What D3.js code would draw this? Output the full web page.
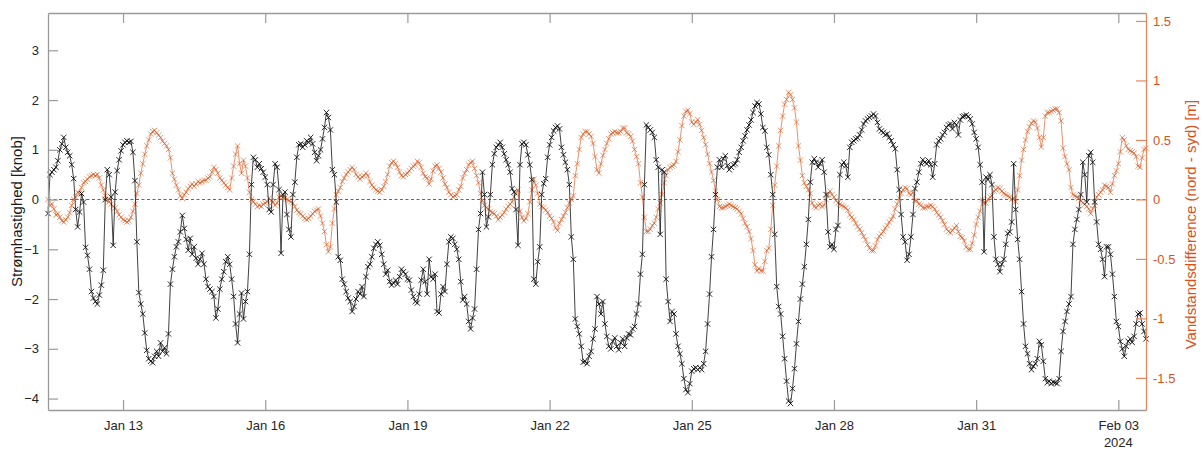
<!DOCTYPE html>
<html><head><meta charset="utf-8">
<script src="https://cdn.jsdelivr.net/npm/d3@7"></script>
<style>
body{margin:0;background:#fff;}
svg{display:block;font-family:"Liberation Sans",Arial,Helvetica,sans-serif;}
</style>
</head><body>
<svg id="chart" width="1202" height="449"></svg>
<script>
// ---------------- DATA ----------------
const startTime = "2024-01-11T10:00:00Z";   // first sample
const stepHours = 1;                         // hourly samples

// Current speed [knob] (left axis, black)
const speedKnots = [
-0.28,0.5,0.55,0.6,0.65,0.78,1.0,1.12,1.25,1.05,
0.95,0.88,0.7,0.42,-0.2,-0.55,-0.25,0.12,-0.05,-0.96,
-1.12,-1.4,-1.85,-1.98,-2.05,-2.1,-1.92,-1.72,-1.42,0.0,
0.6,0.5,0.05,-0.92,0.15,0.58,0.8,0.98,1.1,1.15,
1.18,1.15,1.17,0.95,0.38,-0.85,-1.87,-2.1,-2.3,-2.68,
-3.03,-3.2,-3.25,-3.28,-3.15,-3.05,-3.15,-2.88,-3.05,-2.98,
-3.1,-2.7,-1.7,-1.4,-1.15,-0.95,-0.85,-0.65,-0.32,-0.58,
-0.8,-1.02,-0.78,-1.1,-0.95,-1.18,-1.3,-1.2,-1.08,-1.3,
-1.6,-1.75,-1.8,-1.85,-1.95,-2.38,-2.2,-1.8,-1.6,-1.45,
-1.25,-1.15,-1.3,-1.6,-1.95,-2.5,-2.88,-2.3,-1.88,-2.4,
-2.05,-1.85,-1.1,0.3,0.85,0.8,0.65,0.72,0.62,0.55,
0.45,0.3,-0.2,-0.25,0.3,0.72,0.65,0.2,-1.08,0.1,
0.15,-0.3,-0.6,-0.75,0.1,0.35,0.85,1.1,1.12,1.05,
1.1,1.18,1.15,1.25,1.12,0.95,0.78,0.88,1.0,1.22,
1.45,1.75,1.65,1.4,0.6,0.5,-0.05,-1.15,-1.22,-1.6,
-1.7,-1.85,-1.98,-2.05,-2.25,-2.15,-2.0,-1.85,-1.9,-1.75,
-1.95,-1.55,-1.35,-1.3,-1.15,-0.98,-0.9,-0.85,-0.92,-1.1,
-1.3,-1.5,-1.42,-1.65,-1.72,-1.68,-1.62,-1.7,-1.55,-1.4,
-1.45,-1.5,-1.6,-1.62,-1.82,-1.95,-2.05,-2.08,-1.9,-1.62,
-1.4,-1.65,-1.9,-1.2,-1.55,-1.6,-1.5,-2.25,-2.28,-1.9,
-1.75,-1.85,-1.3,-0.85,-0.75,-0.78,-0.9,-1.0,-1.2,-1.65,
-2.02,-1.95,-2.1,-2.45,-2.6,-2.38,-2.2,-1.4,-0.6,-0.28,
0.55,0.1,-0.55,-0.35,0.1,0.7,0.92,1.05,1.1,1.15,
1.05,0.92,0.8,0.7,0.55,0.22,0.15,-0.2,-0.92,0.7,
1.12,1.15,1.1,0.9,0.7,0.4,-1.6,-1.7,-1.25,-0.95,
0.1,0.32,0.42,0.85,1.1,1.25,1.38,1.45,1.48,1.42,
1.05,0.9,0.75,0.6,0.3,-0.75,-1.2,-2.4,-2.55,-2.7,
-2.95,-3.27,-3.25,-3.3,-3.15,-3.05,-2.8,-2.6,-1.95,-2.1,
-2.3,-2.05,-2.5,-2.75,-2.95,-3.0,-2.85,-2.78,-2.95,-3.02,
-2.88,-2.8,-2.95,-2.78,-2.7,-2.72,-2.6,-2.55,-2.3,-2.1,
-1.5,-1.1,0.3,1.5,1.45,1.4,1.35,1.25,0.8,0.65,
-0.7,0.6,0.55,-1.6,-2.05,-2.45,-2.25,-2.3,-2.7,-2.95,
-3.1,-3.3,-3.6,-3.82,-3.88,-3.7,-3.45,-3.4,-3.38,-3.42,
-3.38,-3.42,-3.3,-3.05,-2.5,-1.9,-1.15,-0.6,0.1,0.65,
0.8,0.65,0.82,0.88,0.68,0.6,0.65,0.7,0.72,0.8,
0.95,1.05,1.18,1.28,1.4,1.5,1.6,1.75,1.88,1.95,
1.92,1.72,1.45,1.38,1.05,0.9,0.5,0.1,-0.7,-1.75,
-2.15,-2.3,-2.75,-3.2,-3.65,-4.05,-4.1,-3.8,-3.4,-2.9,
-2.45,-2.0,-1.7,-1.35,-0.9,-0.4,0.35,0.75,0.82,0.75,
0.65,0.72,0.8,0.55,0.1,-0.65,-0.95,-0.9,-1.0,-0.6,
-0.52,0.5,0.7,0.75,0.68,0.45,1.05,1.15,1.18,1.22,
1.24,1.3,1.4,1.52,1.58,1.62,1.65,1.68,1.72,1.68,
1.55,1.42,1.38,1.35,1.3,1.32,1.25,1.18,1.1,1.02,
0.6,0.2,-0.3,-0.75,-0.85,-1.22,-1.1,-0.75,-0.3,0.22,
0.35,0.55,0.72,0.8,0.75,0.72,0.78,0.7,0.45,0.72,
1.1,1.18,1.22,1.3,1.35,1.45,1.5,1.52,1.42,1.55,
1.5,1.3,1.6,1.67,1.68,1.7,1.67,1.62,1.52,1.35,
1.22,1.05,0.7,0.35,-1.05,0.45,0.4,0.5,0.3,-0.75,
-1.2,-1.3,-1.45,-1.3,-1.2,-0.9,-0.68,-0.65,-0.45,0.72,
-0.2,-0.8,-1.2,-1.85,-2.5,-2.95,-3.1,-3.3,-3.42,-3.35,
-3.3,-3.2,-2.85,-2.92,-3.25,-3.6,-3.68,-3.65,-3.7,-3.67,
-3.68,-3.7,-3.6,-3.05,-2.65,-2.45,-2.25,-2.1,-1.95,-0.9,
-0.6,-0.4,-0.2,0.1,0.75,0.5,-0.05,0.88,0.95,0.75,
-0.05,-0.45,-0.9,-1.0,-1.2,-1.55,-0.95,-0.95,-1.1,-1.5,
-1.95,-2.45,-2.55,-2.85,-3.0,-3.15,-2.95,-2.85,-2.8,-2.87,
-2.75,-2.5,-2.3,-2.28,-2.5,-2.65,-2.8
];

// Water level difference north - south [m] (right axis, orange)
const levelDiff = [
0.0,-0.05,-0.04,-0.08,-0.13,-0.12,-0.15,-0.18,-0.19,-0.17,
-0.15,-0.11,-0.05,0.0,0.02,0.06,0.05,0.1,0.14,0.15,
0.17,0.19,0.2,0.21,0.2,0.21,0.18,0.12,0.08,0.03,
0.0,-0.02,-0.04,-0.06,-0.07,-0.1,-0.13,-0.15,-0.17,-0.18,
-0.19,-0.18,-0.15,-0.1,-0.04,0.05,0.12,0.22,0.3,0.38,
0.45,0.5,0.55,0.57,0.58,0.56,0.54,0.52,0.49,0.47,
0.45,0.42,0.35,0.22,0.17,0.12,0.08,0.03,0.01,0.04,
0.06,0.09,0.11,0.13,0.11,0.13,0.15,0.14,0.15,0.16,
0.16,0.18,0.19,0.23,0.27,0.25,0.22,0.18,0.16,0.14,
0.12,0.1,0.08,0.18,0.28,0.38,0.45,0.3,0.22,0.33,
0.28,0.18,0.06,0.0,-0.02,-0.04,-0.06,-0.05,-0.06,-0.04,
-0.03,-0.02,0.01,-0.01,-0.02,-0.05,-0.03,0.02,0.03,0.02,
0.01,0.0,-0.01,-0.02,-0.03,-0.06,-0.09,-0.11,-0.12,-0.14,
-0.16,-0.17,-0.16,-0.14,-0.12,-0.1,-0.09,-0.08,-0.14,-0.2,
-0.27,-0.38,-0.44,-0.4,-0.2,-0.08,0.04,0.07,0.1,0.15,
0.18,0.21,0.23,0.25,0.27,0.25,0.21,0.19,0.17,0.19,
0.2,0.22,0.2,0.15,0.12,0.1,0.08,0.07,0.06,0.08,
0.11,0.15,0.21,0.28,0.31,0.32,0.3,0.27,0.23,0.2,
0.19,0.21,0.22,0.24,0.26,0.28,0.29,0.32,0.31,0.27,
0.22,0.19,0.18,0.13,0.17,0.24,0.28,0.29,0.26,0.23,
0.18,0.13,0.1,0.06,0.04,0.02,0.03,0.04,0.08,0.11,
0.18,0.22,0.25,0.29,0.31,0.32,0.26,0.2,0.14,0.05,
-0.01,-0.05,-0.07,-0.08,-0.1,-0.11,-0.12,-0.14,-0.17,-0.15,
-0.13,-0.11,-0.08,-0.06,-0.04,-0.02,0.02,0.05,0.08,-0.1,
-0.15,-0.18,-0.16,-0.12,-0.02,0.08,0.17,0.12,0.05,-0.04,
-0.06,-0.07,-0.09,-0.11,-0.14,-0.16,-0.19,-0.24,-0.26,-0.2,
-0.17,-0.14,-0.11,-0.07,-0.03,0.0,0.03,0.2,0.3,0.42,
0.52,0.55,0.57,0.57,0.55,0.53,0.47,0.36,0.25,0.22,
0.3,0.37,0.42,0.47,0.51,0.55,0.56,0.57,0.56,0.56,
0.57,0.6,0.6,0.56,0.55,0.53,0.49,0.42,0.36,0.3,
0.14,0.02,-0.15,-0.27,-0.27,-0.25,-0.22,-0.2,-0.15,-0.08,
-0.03,0.04,0.14,0.2,0.25,0.27,0.28,0.29,0.32,0.4,
0.5,0.62,0.7,0.74,0.75,0.72,0.65,0.63,0.65,0.67,
0.63,0.58,0.52,0.46,0.38,0.3,0.23,0.16,0.07,0.0,
-0.06,-0.07,-0.07,-0.06,-0.05,-0.04,-0.05,-0.06,-0.07,-0.08,
-0.1,-0.12,-0.16,-0.2,-0.23,-0.27,-0.33,-0.43,-0.55,-0.6,
-0.58,-0.6,-0.6,-0.52,-0.43,-0.41,-0.25,-0.05,0.12,0.28,
0.45,0.58,0.7,0.8,0.84,0.9,0.88,0.84,0.77,0.65,
0.45,0.33,0.2,0.14,0.11,0.08,0.05,-0.03,-0.06,-0.07,
-0.05,-0.04,-0.06,-0.05,0.0,0.04,0.07,0.04,0.02,-0.01,
-0.03,-0.04,-0.05,-0.06,-0.07,-0.09,-0.13,-0.15,-0.17,-0.2,
-0.23,-0.25,-0.28,-0.31,-0.34,-0.38,-0.41,-0.43,-0.43,-0.39,
-0.34,-0.31,-0.29,-0.27,-0.24,-0.22,-0.19,-0.17,-0.14,-0.08,
-0.04,0.01,0.05,0.08,0.1,0.09,0.05,0.04,0.06,-0.01,
-0.01,-0.04,-0.05,-0.07,-0.07,-0.06,-0.06,-0.05,-0.06,-0.08,
-0.11,-0.13,-0.15,-0.18,-0.21,-0.25,-0.27,-0.28,-0.26,-0.24,
-0.22,-0.27,-0.31,-0.32,-0.35,-0.4,-0.42,-0.42,-0.37,-0.3,
-0.21,-0.15,-0.1,0.0,-0.03,-0.03,0.0,0.02,0.03,0.07,
0.08,0.1,0.09,0.07,0.05,0.04,0.03,0.02,0.0,0.01,
-0.02,0.08,0.2,0.33,0.42,0.5,0.57,0.61,0.64,0.66,
0.65,0.6,0.52,0.44,0.52,0.7,0.73,0.73,0.74,0.75,
0.76,0.76,0.73,0.66,0.43,0.36,0.3,0.25,0.1,0.04,
0.03,0.02,0.01,-0.01,-0.03,-0.04,-0.06,-0.08,-0.12,-0.08,
-0.05,0.02,0.04,0.06,0.08,0.12,0.11,0.1,0.06,0.13,
0.2,0.24,0.3,0.4,0.52,0.5,0.45,0.42,0.41,0.4,
0.39,0.36,0.28,0.27,0.35,0.42,0.43
];

const xTickDates = ["2024-01-13","2024-01-16","2024-01-19","2024-01-22","2024-01-25","2024-01-28","2024-01-31","2024-02-03"];
const leftTicks  = [-4,-3,-2,-1,0,1,2,3];
const rightTicks = [-1.5,-1,-0.5,0,0.5,1,1.5];
const leftDomain  = [-4.23, 3.75];
const rightDomain = [-1.77, 1.567];
const leftLabel  = "Strømhastighed [knob]";
const rightLabel = "Vandstandsdifference (nord - syd) [m]";
const yearLabel  = "2024";

// ---------------- LAYOUT ----------------
const L = 48, R = 1146, T = 13, B = 410;
const BLACK = "#111", ORANGE = "#D95319";
const svg = d3.select("#chart");

const t0 = new Date(startTime);
const times = speedKnots.map((_, i) => new Date(t0.getTime() + i * stepHours * 3600e3));
const x  = d3.scaleUtc().domain(d3.extent(times)).range([L, R]);
const yL = d3.scaleLinear().domain(leftDomain).range([B, T]);
const yR = d3.scaleLinear().domain(rightDomain).range([B, T]);
const tickDates = xTickDates.map(s => new Date(s + "T00:00:00Z"));

// zero dashed line
svg.append("line")
  .attr("x1", L).attr("x2", R).attr("y1", yL(0)).attr("y2", yL(0))
  .attr("stroke", "#666").attr("stroke-width", 1.1).attr("stroke-dasharray", "3,2.5");

const crossPath = "M-2.7,-2.7L2.7,2.7M-2.7,2.7L2.7,-2.7";

function drawSeries(vals, yScale, color, lineW, markW, op) {
  const pts = vals.map((v, i) => [times[i], v]);
  const g = svg.append("g");
  g.append("path")
    .attr("d", d3.line().x(d => x(d[0])).y(d => yScale(d[1]))(pts))
    .attr("fill", "none").attr("stroke", color).attr("stroke-width", lineW).attr("opacity", op);
  g.selectAll("path.m").data(pts).join("path").attr("class", "m")
    .attr("d", crossPath)
    .attr("transform", d => `translate(${x(d[0])},${yScale(d[1])})`)
    .attr("fill", "none").attr("stroke", color).attr("stroke-width", markW).attr("opacity", op);
}
drawSeries(levelDiff, yR, ORANGE, 0.8, 0.75, 0.8);
drawSeries(speedKnots, yL, BLACK, 0.8, 0.9, 1);

// ---------------- AXES ----------------
const AX = "#9a9a9a";
const fmt = d3.utcFormat("%b %d");

const gB = svg.append("g").attr("transform", `translate(0,${B})`)
  .call(d3.axisBottom(x).tickValues(tickDates).tickFormat(fmt).tickSizeInner(-10).tickSizeOuter(0).tickPadding(11));
const gT = svg.append("g").attr("transform", `translate(0,${T})`)
  .call(d3.axisTop(x).tickValues(tickDates).tickFormat("").tickSizeInner(-10).tickSizeOuter(0));
const gL = svg.append("g").attr("transform", `translate(${L},0)`)
  .call(d3.axisLeft(yL).tickValues(leftTicks).tickFormat(d3.format("d")).tickSizeInner(-10).tickSizeOuter(0).tickPadding(9));
const gR = svg.append("g").attr("transform", `translate(${R},0)`)
  .call(d3.axisRight(yR).tickValues(rightTicks).tickFormat(d => String(d)).tickSizeInner(-10).tickSizeOuter(0).tickPadding(7));

[gB, gT, gL].forEach(g => {
  g.select(".domain").attr("stroke", AX).attr("stroke-width", 1.3);
  g.selectAll(".tick line").attr("stroke", AX).attr("stroke-width", 1.2);
  g.selectAll(".tick text").attr("fill", "#262626").style("font-size", "13px")
    .style("font-family", '"Liberation Sans",Arial,sans-serif');
});
gR.select(".domain").attr("stroke", "#e8875c").attr("stroke-width", 1.3);
gR.selectAll(".tick line").attr("stroke", "#e8875c").attr("stroke-width", 1.2);
gR.selectAll(".tick text").attr("fill", ORANGE).style("font-size", "13px")
  .style("font-family", '"Liberation Sans",Arial,sans-serif');

// year label under last tick
svg.append("text").attr("x", x(tickDates[tickDates.length - 1])).attr("y", 447)
  .attr("text-anchor", "middle").attr("fill", "#262626").style("font-size", "13px").text(yearLabel);

// axis titles
svg.append("text").attr("transform", `translate(22,${(T + B) / 2}) rotate(-90)`)
  .attr("text-anchor", "middle").attr("fill", "#1a1a1a").style("font-size", "15px").text(leftLabel);
svg.append("text").attr("transform", `translate(1196,${(T + B) / 2 + 13}) rotate(-90)`)
  .attr("text-anchor", "middle").attr("fill", ORANGE).style("font-size", "15px").text(rightLabel);
</script>
</body></html>
